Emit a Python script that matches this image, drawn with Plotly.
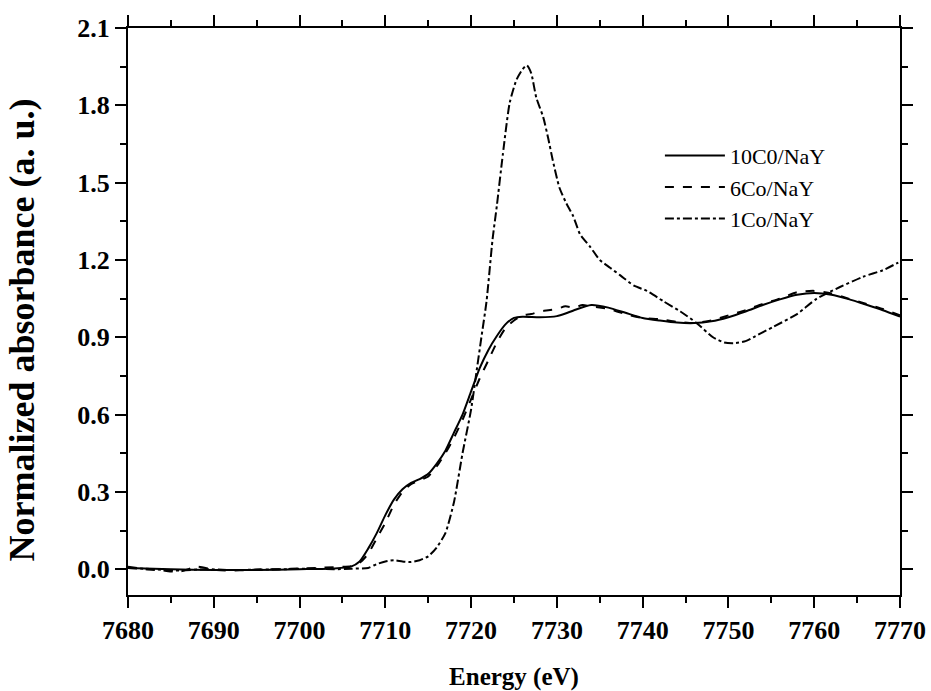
import plotly.graph_objects as go

# Co K-edge XANES, normalized absorbance vs. energy
e_10co = [7680, 7685, 7690, 7695, 7700, 7704, 7706, 7707, 7708, 7709, 7710, 7711, 7712,
          7713, 7714, 7715, 7716, 7717, 7718, 7719, 7720, 7721, 7722, 7723, 7724, 7725,
          7726, 7728, 7730, 7731, 7732, 7734, 7736, 7738, 7740, 7742, 7744, 7746, 7748,
          7750, 7752, 7754, 7756, 7758, 7760, 7762, 7764, 7766, 7768, 7770]
a_10co = [0.005, 0.0, -0.003, -0.003, 0.0, 0.003, 0.01, 0.03, 0.08, 0.14, 0.21, 0.27, 0.31,
          0.335, 0.35, 0.37, 0.41, 0.46, 0.53, 0.60, 0.69, 0.78, 0.85, 0.905, 0.95, 0.975,
          0.98, 0.978, 0.982, 0.992, 1.005, 1.025, 1.015, 0.995, 0.975, 0.965, 0.957, 0.955, 0.962,
          0.978, 1.0, 1.025, 1.047, 1.065, 1.072, 1.065, 1.048, 1.027, 1.005, 0.98]

e_6co = [7680, 7682, 7684, 7686, 7688, 7690, 7692, 7694, 7696, 7698, 7700, 7702, 7704, 7706,
         7707, 7708, 7709, 7710, 7711, 7712, 7713, 7714, 7715, 7716, 7717, 7718, 7719, 7720,
         7721, 7722, 7723, 7724, 7725, 7726, 7727, 7728, 7729, 7730, 7731, 7732, 7733, 7734,
         7736, 7738, 7740, 7742, 7744, 7746, 7748, 7750, 7752, 7754, 7756, 7758, 7760, 7762,
         7764, 7766, 7768, 7770]
a_6co = [0.01, 0.0, -0.005, -0.01, 0.01, -0.002, -0.005, -0.003, 0.0, 0.0, 0.003, 0.005, 0.008, 0.012,
         0.025, 0.06, 0.12, 0.18, 0.25, 0.30, 0.33, 0.345, 0.36, 0.40, 0.45, 0.51, 0.58, 0.66,
         0.74, 0.81, 0.88, 0.935, 0.965, 0.985, 0.99, 1.0, 1.005, 1.01, 1.02, 1.015, 1.025, 1.02,
         1.01, 0.99, 0.975, 0.97, 0.96, 0.955, 0.965, 0.985, 1.005, 1.03, 1.05, 1.075, 1.08, 1.07,
         1.05, 1.03, 1.01, 0.985]

e_1co = [7680, 7683, 7686, 7689, 7692, 7695, 7698, 7701, 7704, 7706, 7708, 7709, 7710, 7711,
         7712, 7713, 7714, 7715, 7716, 7717, 7718, 7719, 7720, 7720.6, 7721.2, 7721.8, 7722.5,
         7723, 7723.7, 7724.5, 7725.3, 7726, 7726.5, 7727, 7727.6, 7728.4, 7729, 7729.5, 7730.3,
         7731.1, 7731.9, 7732.7, 7733.9, 7735, 7736.2, 7737.4, 7739, 7740.5, 7742.4, 7744.4,
         7746.3, 7748.2, 7749.5, 7750.6, 7752, 7752.9, 7755.2, 7758, 7760.3, 7763, 7765.7,
         7768, 7769.8]
a_1co = [0.005, 0.0, -0.005, 0.0, -0.003, -0.002, 0.0, 0.002, 0.0, 0.002, 0.005, 0.02, 0.03, 0.035,
         0.03, 0.028, 0.035, 0.05, 0.085, 0.14, 0.26, 0.45, 0.62, 0.76, 0.90, 1.04, 1.28,
         1.41, 1.61, 1.81, 1.90, 1.94, 1.955, 1.925, 1.83, 1.755, 1.67, 1.59, 1.48,
         1.42, 1.37, 1.30, 1.25, 1.20, 1.17, 1.14, 1.10, 1.08, 1.04, 1.0,
         0.955, 0.90, 0.88, 0.877, 0.885, 0.90, 0.94, 0.99, 1.05, 1.095, 1.135,
         1.16, 1.19]

FONT = "Liberation Serif"

fig = go.Figure()
series = [
    ("10C0/NaY", e_10co, a_10co, "solid"),
    ("6Co/NaY", e_6co, a_6co, "dash"),
    ("1Co/NaY", e_1co, a_1co, "dashdot"),
]
for name, x, y, dash in series:
    fig.add_trace(go.Scatter(
        x=x, y=y, name=name, mode="lines",
        line=dict(color="black", width=2, dash=dash, shape="spline", smoothing=0.6),
    ))

axis_common = dict(
    showgrid=False, zeroline=False, showline=True, linecolor="black", linewidth=2,
    ticks="outside", ticklen=11, tickwidth=2, tickcolor="black", mirror="ticks",
    tickfont=dict(family=FONT, size=26, color="black", weight="bold"),
    automargin=False,
)

fig.update_layout(
    width=931, height=691,
    margin=dict(l=128, r=31, t=28, b=96),
    paper_bgcolor="white", plot_bgcolor="white",
    font=dict(family=FONT, color="black"),
    xaxis=dict(
        range=[7680, 7770], tick0=7680, dtick=10,
        minor=dict(dtick=5, ticklen=6, tickwidth=2, ticks="outside", tickcolor="black"),
        title=dict(text="Energy (eV)", font=dict(family=FONT, size=25, weight="bold"), standoff=32),
        **axis_common,
    ),
    yaxis=dict(
        range=[-0.1, 2.1], tick0=0, dtick=0.3, tickformat=".1f",
        minor=dict(dtick=0.15, ticklen=6, tickwidth=2, ticks="outside", tickcolor="black"),
        **axis_common,
    ),
    annotations=[dict(
        text="Normalized absorbance (a. u.)", textangle=-90,
        xref="paper", yref="paper", x=-0.137, y=0.467,
        xanchor="center", yanchor="middle", showarrow=False,
        font=dict(family=FONT, size=36, color="black", weight="bold"),
    )],
    legend=dict(
        x=0.689, y=0.812, xanchor="left", yanchor="top",
        bgcolor="rgba(0,0,0,0)", borderwidth=0,
        font=dict(family=FONT, size=22, color="black"),
        itemwidth=60, tracegroupgap=0,
    ),
    showlegend=True,
)

fig.write_html("out.html")
